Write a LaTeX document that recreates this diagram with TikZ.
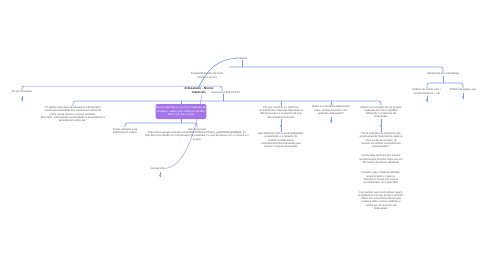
\documentclass[tikz,border=0pt]{standalone}
\usepackage{fontspec}
\setmainfont{Liberation Sans}
\usetikzlibrary{backgrounds,calc}
\definecolor{lineblue}{HTML}{7C9CF2}
\definecolor{lav}{HTML}{B9A0F2}
\definecolor{roxofill}{HTML}{A574E8}
\definecolor{txtgray}{HTML}{555555}
\definecolor{darkt}{HTML}{333333}
\begin{document}
\begin{tikzpicture}[x=1pt,y=-1pt,
  txt/.style={font=\fontsize{2.7}{3.3}\selectfont, text=txtgray, align=center, inner sep=0.4pt},
  conn/.style={draw=lineblue, line width=0.65pt, rounded corners=2pt},
  lavconn/.style={draw=lav, line width=0.6pt},
  roxobox/.style={fill=roxofill, rounded corners=1.5pt, text=white, align=center,
    font=\fontsize{2.7}{3.3}\selectfont, minimum width=46pt, minimum height=15pt, inner sep=0.5pt},
  knobmark/.pic={\draw[lineblue, line width=0.5pt] (0,-3) -- (0,2.5);
                 \draw[lineblue, fill=lineblue!40, line width=0.4pt] (0,0.6) circle (0.9pt);}
]
\useasboundingbox (0,0) rectangle (486,270);

% nodes
\node[txt] (pin) at (242,58.5) {Pinterest};
\node[txt] (comp) at (207,75.8) {Compartilhamento de texto\\(“Para o Fórum”)};
\node[txt, font={\fontsize{3.2}{4.2}\selectfont\bfseries}, text=darkt] (central) at (199,90.6) {Artesanato - Novos\\materiais};
\node[txt, anchor=west] (inter) at (211,92.6) {Interesse (2024 PCCR)};
\node[txt] (lig) at (22,92.2) {O Lig Conceituar};
\node[txt] (camp) at (443,74) {Campanha de remarketing};
\node[txt] (pub1) at (427,91.5) {Público de outras vias +\\envolvimento IG + FB};
\node[txt] (pub2) at (463,90) {Público de pagas vias};

\node[txt] (obj) at (73,114.5) {“O objetivo da etapa de interesse é despertar o\\interesse/curiosidade dos clientes em potencial\\sobre nossa marca e nossos produtos.\\Boa ideia: Informações/curiosidades a despertarem e\\aprenderem sobre ele.”};

\node[roxobox] (roxo) at (181,111.5) {Novos materiais e cores na confecção de\\produtos: saiba como utilizar os tecidos\\Novos em seu projeto};

\node[txt] (trazer) at (125,131) {Trazer exemplo para\\pedir Kaysec Cabos};
\node[txt] (link) at (197,134.5) {Link conversar!\\https://docs.google.com/document/d/1bT5f0rNxe0ThmS\_gn6P6RzB5q5MReN\_F0\\Tipo de forma dando um comparativo de materiais e o que acontece com o comum e o\\projeto};
\node[txt] (gads) at (158,168.5) {Google Ads};

\node[txt] (por) at (281,112.5) {Por que escolher os melhores\\revestimentos materiais fabricados a\\diferença para a ocupação da sua\\decoração/construção};
\node[txt] (aqui) at (281,140.5) {Aqui destacar toda a sustentabilidade,\\a satisfação e a atuação do\\conforto trazido pelos\\revestimentos da Artesanato que\\trazem o projeto aprovação};
\node[txt] (quais) at (331,110.5) {Quais os principais argumentos\\para comprar/construir com\\produtos Artesanato?};
\node[txt] (mostre) at (381,112) {Mostre um exemplo de um projeto\\realizado por outro arquiteto\\utilizando os materiais da\\Artesanato};
\node[txt] (voce) at (381,171) {“Você arquiteto no momento que\\está buscando materiais de alguma\\obra ou de seu projeto, já\\pensou em utilizar revestimentos\\sustentáveis?”\\[6pt]
Venha aqui conheça que nossos\\revestimentos projetos linha que um\\de nossos parceiros utilizando\\[7pt]
Desafio: aqui, material utilizado,\\quais projetos, o que os\\benefícios trouxe em nossos\\revestimentos em específico!\\[6pt]
Faz sentido para você utilizar algum\\revestimento em seu próximo projeto?\\Utilize ele como bônus desse que\\conheça todo o nosso catálogo e\\venha ser um parceiro da\\Artesanato};

% junction coordinates
\coordinate (topj) at (229,67);
\coordinate (bj) at (223,101);
\coordinate (pj) at (182,123);
\coordinate (cj) at (443,83);

\begin{scope}[on background layer]
  \fill[white] (0,0) rectangle (486,270);
  \draw[lavconn] (gads.east) .. controls (186,165) and (196,130) .. ([xshift=3pt]central.south);
  \draw[conn] (pin.west) .. controls (220,58.5) and (208,68) .. (central.north);
  \draw[conn] (topj) -| (camp.north);
  \draw[conn] (pin.south) -- (pin.south |- topj);
  \draw[conn] (lig.north) -- ++(0,-4.2) -| ([xshift=11pt]inter.north west);
  \draw[conn] (obj.north) |- (bj) -| (mostre.north);
  \draw[conn] (bj) -- (bj |- inter.south);
  \draw[conn] (roxo.north) -- (roxo.north |- bj);
  \draw[conn] (por.north) -- (por.north |- bj);
  \draw[conn] (quais.north) -- (quais.north |- bj);
  \draw[conn] (trazer.north) |- (pj) -| (link.north);
  \draw[conn] (roxo.south) -- (roxo.south |- pj);
  \draw[conn] (pub1.north) |- (cj) -| (pub2.north);
  \draw[conn] (camp.south) -- (cj);
  \draw[conn] (por.south) -- (aqui.north);
  \draw[conn] (mostre.south) -- (voce.north);
\end{scope}

% collapse markers
\pic at ($(lig.south)+(0,4.5)$) {knobmark};
\pic at ($(pub1.south)+(0,4.5)$) {knobmark};
\pic at ($(pub2.south)+(0,4.5)$) {knobmark};
\pic at ($(quais.south)+(0,4.5)$) {knobmark};
\pic at ($(gads.south)+(2,4.5)$) {knobmark};
\pic at ($(por.south)!0.5!(aqui.north)$) {knobmark};
\pic at ($(mostre.south)!0.5!(voce.north)$) {knobmark};
\end{tikzpicture}
\end{document}
